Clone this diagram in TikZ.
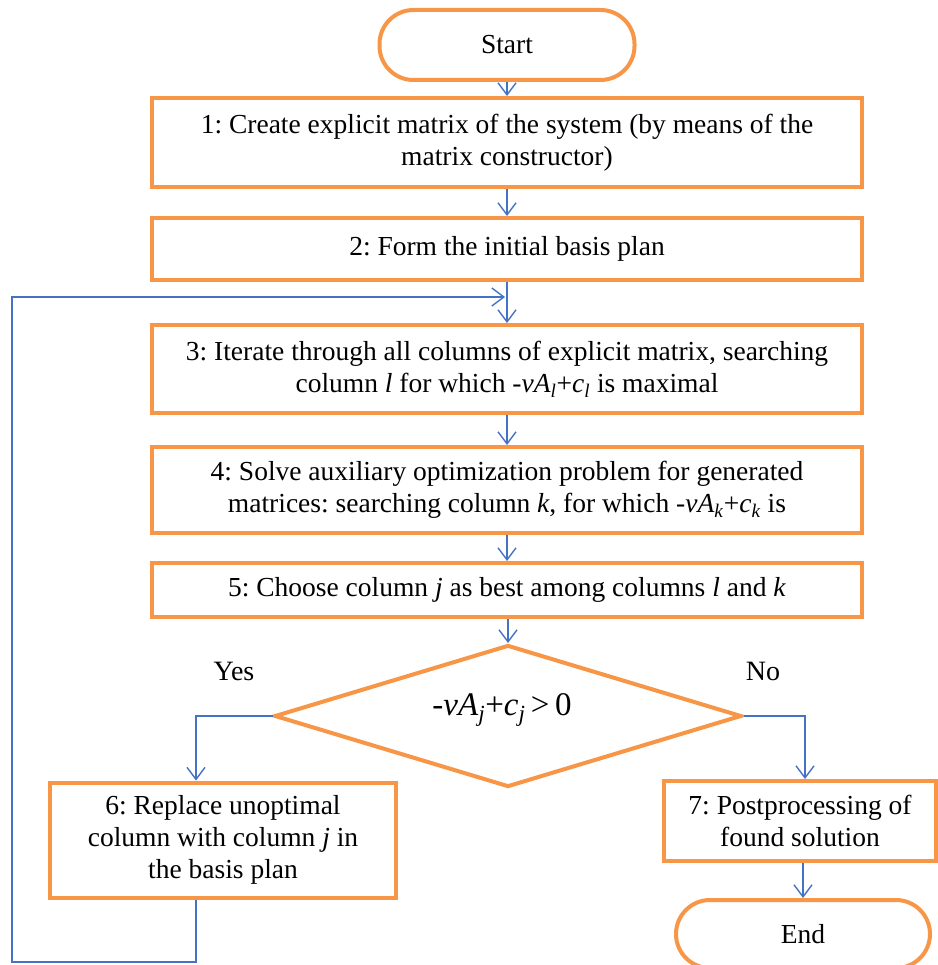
\documentclass[tikz,border=0pt]{standalone}
\usepackage{fontspec}
\setmainfont{Liberation Serif}
\usetikzlibrary{arrows.meta,shapes.geometric,calc}
\frenchspacing
\definecolor{boxorange}{HTML}{F79646}
\definecolor{lineblue}{HTML}{4472C4}
\tikzset{
  stepbox/.style={draw=boxorange, line width=4pt, fill=white, rectangle, inner sep=0pt, align=center, font=\fontsize{27.5}{32}\selectfont},
  termbox/.style={draw=boxorange, line width=4pt, fill=white, rectangle, rounded corners=34pt, inner sep=0pt, font=\fontsize{27.5}{32}\selectfont},
  decbox/.style={draw=boxorange, line width=4pt, fill=white, diamond, inner sep=0pt, minimum width=467pt, minimum height=142pt},
  flow/.style={draw=lineblue, line width=1.4pt, -{Straight Barb[length=12pt,width=18pt,line width=1.4pt]}},
  lbl/.style={font=\fontsize{28}{32}\selectfont, inner sep=0pt}
}
\newcommand{\iv}[1]{\textit{#1}}
\begin{document}
\begin{tikzpicture}[x=1pt,y=-1pt]
\useasboundingbox (0,0) rectangle (937,965);
\node[termbox, minimum width=255pt, minimum height=70pt] (start) at (507,45) {Start};
\node[stepbox, minimum width=710pt, minimum height=89pt] (s1) at (507,142.5) {1: Create explicit matrix of the system (by means of the\\matrix constructor)};
\node[stepbox, minimum width=710pt, minimum height=62pt] (s2) at (507,249) {2: Form the initial basis plan};
\node[stepbox, minimum width=710pt, minimum height=88pt] (s3) at (507,369) {3: Iterate through all columns of explicit matrix, searching\\column \iv{l} for which -\iv{vA}\textsubscript{\iv{l}}+\iv{c}\textsubscript{\iv{l}} is maximal};
\node[stepbox, minimum width=710pt, minimum height=86pt] (s4) at (507,490) {4: Solve auxiliary optimization problem for generated\\matrices: searching column \iv{k}, for which -\iv{vA}\textsubscript{\iv{k}}+\iv{c}\textsubscript{\iv{k}} is};
\node[stepbox, minimum width=710pt, minimum height=54pt] (s5) at (507,590) {5: Choose column \iv{j} as best among columns \iv{l} and \iv{k}};
\node[decbox] (dec) at (508,716) {};
\node[font=\fontsize{33}{38}\selectfont, inner sep=0pt] (dectext) at (502,710) {-\iv{vA}\textsubscript{\iv{j}}+\iv{c}\textsubscript{\iv{j}}\,{>}\,0};
\node[lbl] (yes) at (234,671) {Yes};
\node[lbl] (no) at (763,671) {No};
\node[stepbox, minimum width=346pt, minimum height=115pt] (s6) at (223,840) {6: Replace unoptimal\\column with column \iv{j} in\\the basis plan};
\node[stepbox, minimum width=272pt, minimum height=80pt] (s7) at (800,821) {7: Postprocessing of\\found solution};
\node[termbox, minimum width=254pt, minimum height=68pt] (end) at (803,934) {End};
\coordinate (yesx) at (196,716);
\coordinate (nox) at (805,716);
\coordinate (loopb) at (196,962);
\coordinate (loopl) at (12,962);
\coordinate (loopt) at (12,297);
\coordinate (loopin) at (505,297);
\draw[flow] (start) -- (s1);
\draw[flow] (s1) -- (s2);
\draw[flow] (s2) -- (s3);
\draw[flow] (s3) -- (s4);
\draw[flow] (s4) -- (s5);
\draw[flow] (s5.south -| dec.north) -- (dec.north);
\draw[flow] (dec.west) -- (yesx) -- (yesx |- s6.north);
\draw[flow] (dec.east) -- (nox) -- (nox |- s7.north);
\draw[flow] (s7.south -| end.north) -- (end.north);
\draw[flow] (yesx |- s6.south) -- (loopb) -- (loopl) -- (loopt) -- (loopin);
\end{tikzpicture}
\end{document}
